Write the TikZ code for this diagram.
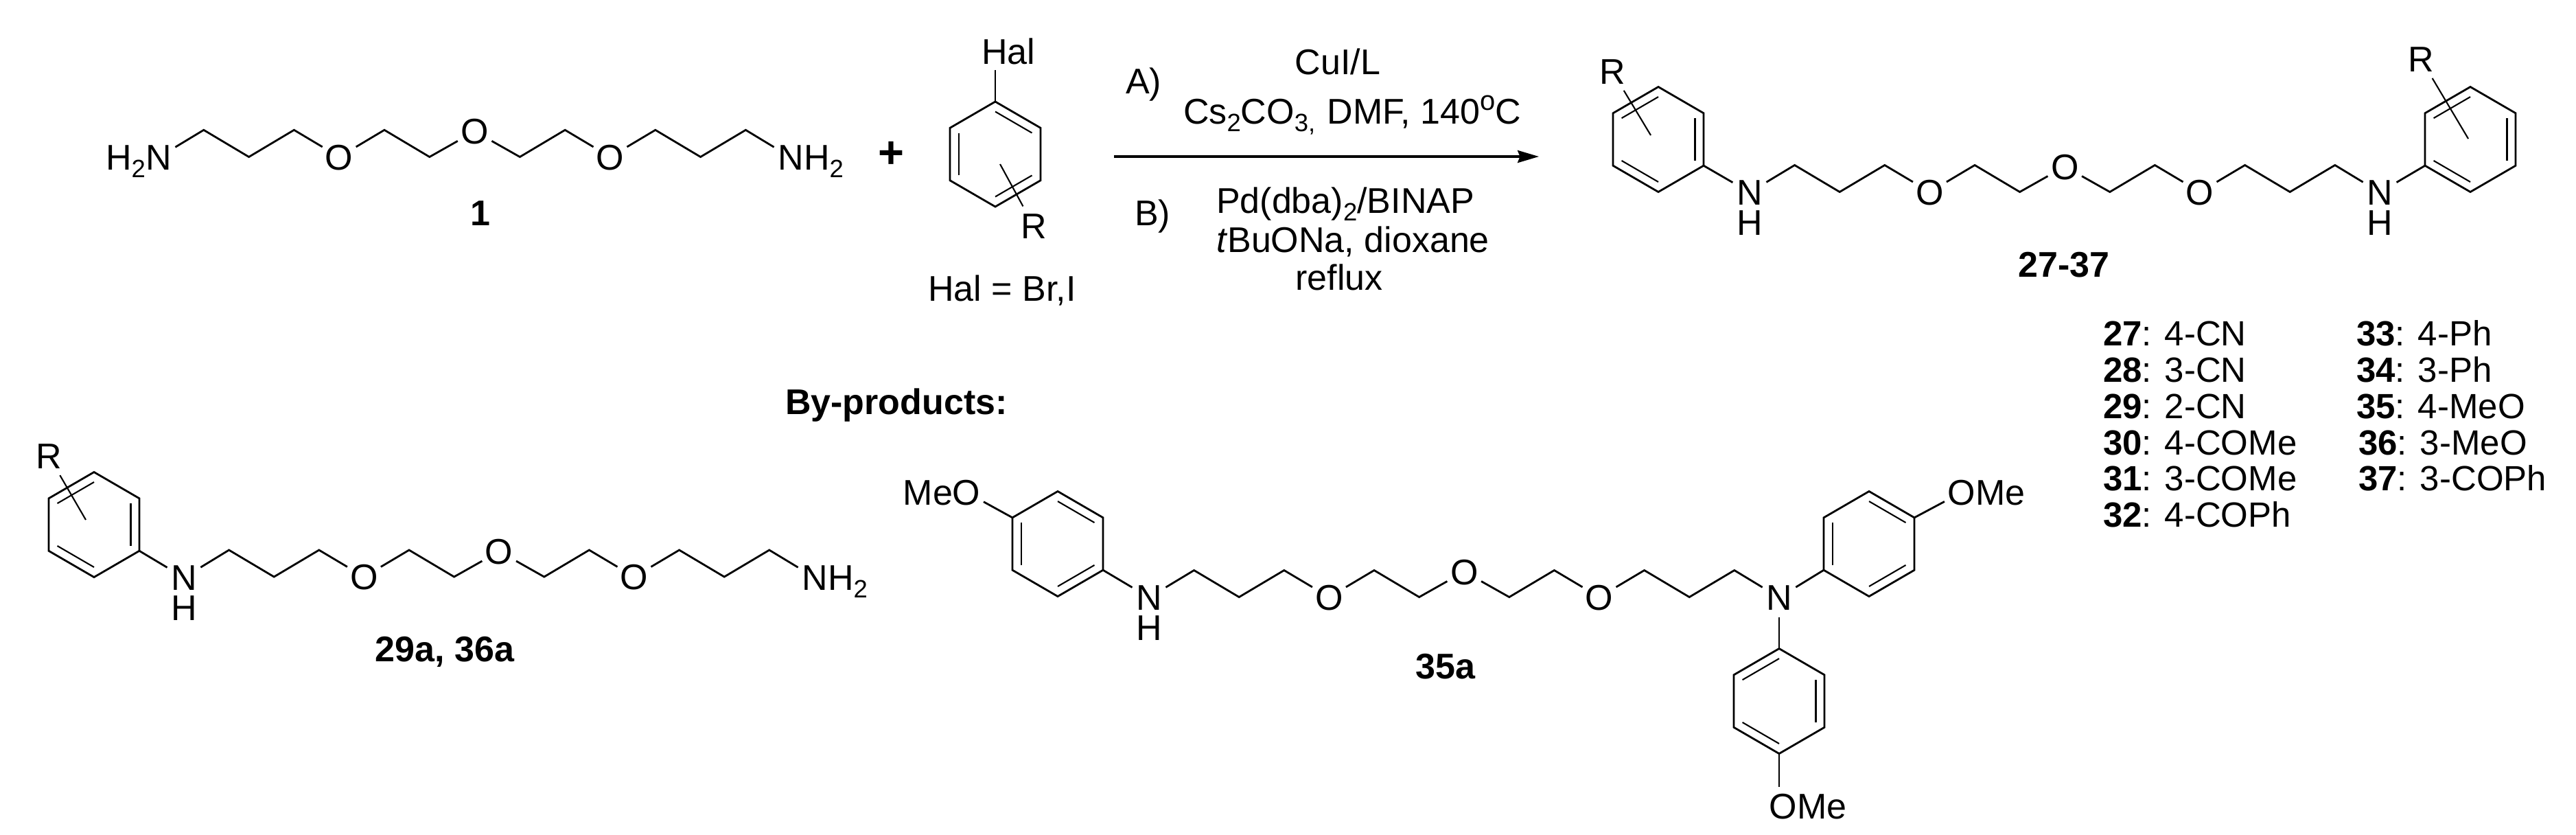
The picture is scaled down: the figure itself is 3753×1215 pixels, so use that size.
\documentclass[tikz,border=0pt]{standalone}
\usepackage{fontspec}
\setmainfont{Liberation Sans}
\usetikzlibrary{arrows.meta,calc}
\newcommand\chemsize{\fontsize{10.4}{12.6}\selectfont}
\newcommand\listsize{\fontsize{10.2}{12.6}\selectfont}
\newcommand\subd[1]{\raisebox{-2.2pt}{\fontsize{7.3}{8}\selectfont #1}}
\newcommand\supd[1]{\raisebox{4pt}{\fontsize{8}{8}\selectfont #1}}
\tikzset{
  bond/.style={line width=0.56pt,line join=miter,line cap=butt},
  thinbond/.style={line width=0.42pt,line cap=butt},
  atom/.style={circle,inner sep=0pt,outer sep=0pt,minimum size=11.4pt,text height=7.4pt,text depth=0pt,font=\chemsize},
  rsub/.style={atom,minimum size=13pt},
  lab/.style={inner sep=0pt,outer sep=0pt,anchor=base,font=\chemsize},
  labl/.style={lab,anchor=base west},
  labr/.style={lab,anchor=base east},
  listl/.style={labl,font=\listsize},
  cmpd/.style={lab,font=\chemsize\bfseries},
  rxn/.style={line width=0.68pt,-{Stealth[length=6.2pt,width=3.6pt,inset=0.7pt]}},
}
% ring: name, cx, cy
\newcommand\hexring[3]{%
  \coordinate (#1c) at (#2,#3);
  \coordinate (#1t) at (#2,#3-76.5);
  \coordinate (#1ur) at (#2+66,#3-38.2);
  \coordinate (#1lr) at (#2+66,#3+38.2);
  \coordinate (#1b) at (#2,#3+76.5);
  \coordinate (#1ll) at (#2-66,#3+38.2);
  \coordinate (#1ul) at (#2-66,#3-38.2);
  \draw[bond] (#1t)--(#1ur)--(#1lr)--(#1b)--(#1ll)--(#1ul)--cycle;
}
% inner line of a double bond: ring, vertex, vertex
\newcommand\dbl[3]{\draw[thinbond] ($(#1c)!0.81!(#1#2)$) -- ($(#1c)!0.81!(#1#3)$);}
% chain: prefix, x of first N, step, y low, y high (nodes #1n0 and #1n14 exist)
\newcommand\pegchain[5]{%
  \coordinate (#1c1) at ({#2+1*#3},#5);
  \coordinate (#1c2) at ({#2+2*#3},#4);
  \coordinate (#1c3) at ({#2+3*#3},#5);
  \node[atom] (#1o4) at ({#2+4*#3},#4) {O};
  \coordinate (#1c5) at ({#2+5*#3},#5);
  \coordinate (#1c6) at ({#2+6*#3},#4);
  \node[atom] (#1o7) at ({#2+7*#3},#5+2) {O};
  \coordinate (#1c8) at ({#2+8*#3},#4);
  \coordinate (#1c9) at ({#2+9*#3},#5);
  \node[atom] (#1o10) at ({#2+10*#3},#4) {O};
  \coordinate (#1c11) at ({#2+11*#3},#5);
  \coordinate (#1c12) at ({#2+12*#3},#4);
  \coordinate (#1c13) at ({#2+13*#3},#5);
  \draw[bond] (#1n0)--(#1c1)--(#1c2)--(#1c3)--(#1o4)--(#1c5)--(#1c6)--(#1o7)--(#1c8)--(#1c9)--(#1o10)--(#1c11)--(#1c12)--(#1c13)--(#1n14);
}
\begin{document}
\begin{tikzpicture}[x=0.2pt,y=-0.2pt]
\useasboundingbox (0,0) rectangle (3753,1215);

% ---- compound 1
\node[atom] (an0) at (231,229) {N};
\node[labr] (ah) at (212,247) {H\subd{2}};
\node[atom] (an14) at (1152,229) {N};
\node[labl] (anh) at (1171,247) {H\subd{2}};
\pegchain{a}{231}{65.8}{228.5}{189.3}
\node[cmpd] (lab1) at (700,328) {1};
\node[lab,font=\fontsize{13}{14}\selectfont\bfseries] (plus) at (1298,244) {+};

% ---- aryl halide
\hexring{h}{1450}{224.5}
\dbl{h}{t}{ur}\dbl{h}{ll}{ul}\dbl{h}{lr}{b}
\node[lab] (hal) at (1469,93) {Hal};
\coordinate (halend) at (1450,102);
\draw[bond] (ht)--(halend);
\node[rsub] (hr) at (1506,329) {R};
\coordinate (hrend) at (1457,239);
\draw[thinbond] (hr)--(hrend);
\node[lab] (halnote) at (1460,438) {Hal = Br,I};

% ---- arrow and conditions
\coordinate (arstart) at (1623,228);
\coordinate (arend) at (2242,228);
\draw[rxn] (arstart)--(arend);
\node[lab] (ca) at (1666,136) {A)};
\node[lab] (c1) at (1949,108) {CuI/L};
\node[lab] (c2) at (1970,180) {Cs\subd{2}CO\subd{3,}\,\,DMF, 140\supd{o}C};
\node[lab] (cb) at (1679,328) {B)};
\node[lab] (c3) at (1960,310) {Pd(dba)\subd{2}/BINAP};
\node[lab] (c4) at (1971,367) {\textit{t}BuONa, dioxane};
\node[lab] (c5) at (1951,422) {reflux};

% ---- products 27-37
\hexring{p}{2416}{203}
\dbl{p}{t}{ul}\dbl{p}{ur}{lr}\dbl{p}{ll}{b}
\hexring{q}{3599}{203}
\dbl{q}{t}{ul}\dbl{q}{ur}{lr}\dbl{q}{ll}{b}
\node[atom] (bn0) at (2549,280) {N};
\node[lab] (bh0) at (2549,342) {H};
\node[atom] (bn14) at (3467,280) {N};
\node[lab] (bh14) at (3467,342) {H};
\pegchain{b}{2549}{65.6}{279.5}{240.5}
\draw[bond] (bn0)--(plr);
\draw[bond] (bn14)--(qll);
\node[rsub] (pr) at (2349,104) {R};
\coordinate (prend) at (2405,197);
\draw[thinbond] (pr)--(prend);
\node[rsub] (qr) at (3527,86) {R};
\coordinate (qrend) at (3596,202);
\draw[thinbond] (qr)--(qrend);
\node[cmpd] (lab2737) at (3007,403) {27-37};

% ---- list
\node[listl] (l27) at (3064,503) {\textbf{27}: 4-CN};
\node[listl] (l28) at (3064,556) {\textbf{28}: 3-CN};
\node[listl] (l29) at (3064,609) {\textbf{29}: 2-CN};
\node[listl] (l30) at (3064,662) {\textbf{30}: 4-COMe};
\node[listl] (l31) at (3064,714) {\textbf{31}: 3-COMe};
\node[listl] (l32) at (3064,767) {\textbf{32}: 4-COPh};
\node[listl] (l33) at (3433,503) {\textbf{33}: 4-Ph};
\node[listl] (l34) at (3433,556) {\textbf{34}: 3-Ph};
\node[listl] (l35) at (3433,609) {\textbf{35}: 4-MeO};
\node[listl] (l36) at (3436,662) {\textbf{36}: 3-MeO};
\node[listl] (l37) at (3436,714) {\textbf{37}: 3-COPh};

\node[labl,font=\chemsize\bfseries] (byp) at (1144,603) {By-products:};

% ---- 29a, 36a
\hexring{r}{137}{764}
\dbl{r}{t}{ul}\dbl{r}{ur}{lr}\dbl{r}{ll}{b}
\node[atom] (cn0) at (268,841) {N};
\node[lab] (ch0) at (268,903) {H};
\node[atom] (cn14) at (1187,841) {N};
\node[labl] (ch14) at (1206,859) {H\subd{2}};
\pegchain{c}{268}{65.6}{840}{801}
\draw[bond] (cn0)--(rlr);
\node[rsub] (rr) at (71,664) {R};
\coordinate (rrend) at (125,757);
\draw[thinbond] (rr)--(rrend);
\node[cmpd] (lab29) at (648,963) {29a, 36a};

% ---- 35a
\hexring{s}{1541}{792}
\dbl{s}{t}{ur}\dbl{s}{ll}{ul}\dbl{s}{lr}{b}
\hexring{u}{2723}{792}
\dbl{u}{t}{ur}\dbl{u}{ll}{ul}\dbl{u}{lr}{b}
\hexring{v}{2592}{1021}
\dbl{v}{t}{ul}\dbl{v}{ur}{lr}\dbl{v}{ll}{b}
\node[atom] (dn0) at (1674,870) {N};
\node[lab] (dh0) at (1674,932) {H};
\node[atom] (dn14) at (2592,870) {N};
\pegchain{d}{1674}{65.6}{869.5}{830.5}
\draw[bond] (dn0)--(slr);
\draw[bond] (dn14)--(ull);
\draw[bond] (dn14)--(vt);
\node[atom] (so) at (1408,717) {O};
\node[labr] (sme) at (1388,735) {Me};
\draw[bond] (so)--(sul);
\node[atom] (uo) at (2858,717) {O};
\node[labl] (ume) at (2878,735) {Me};
\draw[bond] (uo)--(uur);
\node[atom] (vo) at (2598,1174) {O};
\node[labl] (vme) at (2618,1192) {Me};
\draw[bond] (vb)--(vb |- vo.north);
\node[cmpd] (lab35) at (2106,988) {35a};
\end{tikzpicture}
\end{document}
